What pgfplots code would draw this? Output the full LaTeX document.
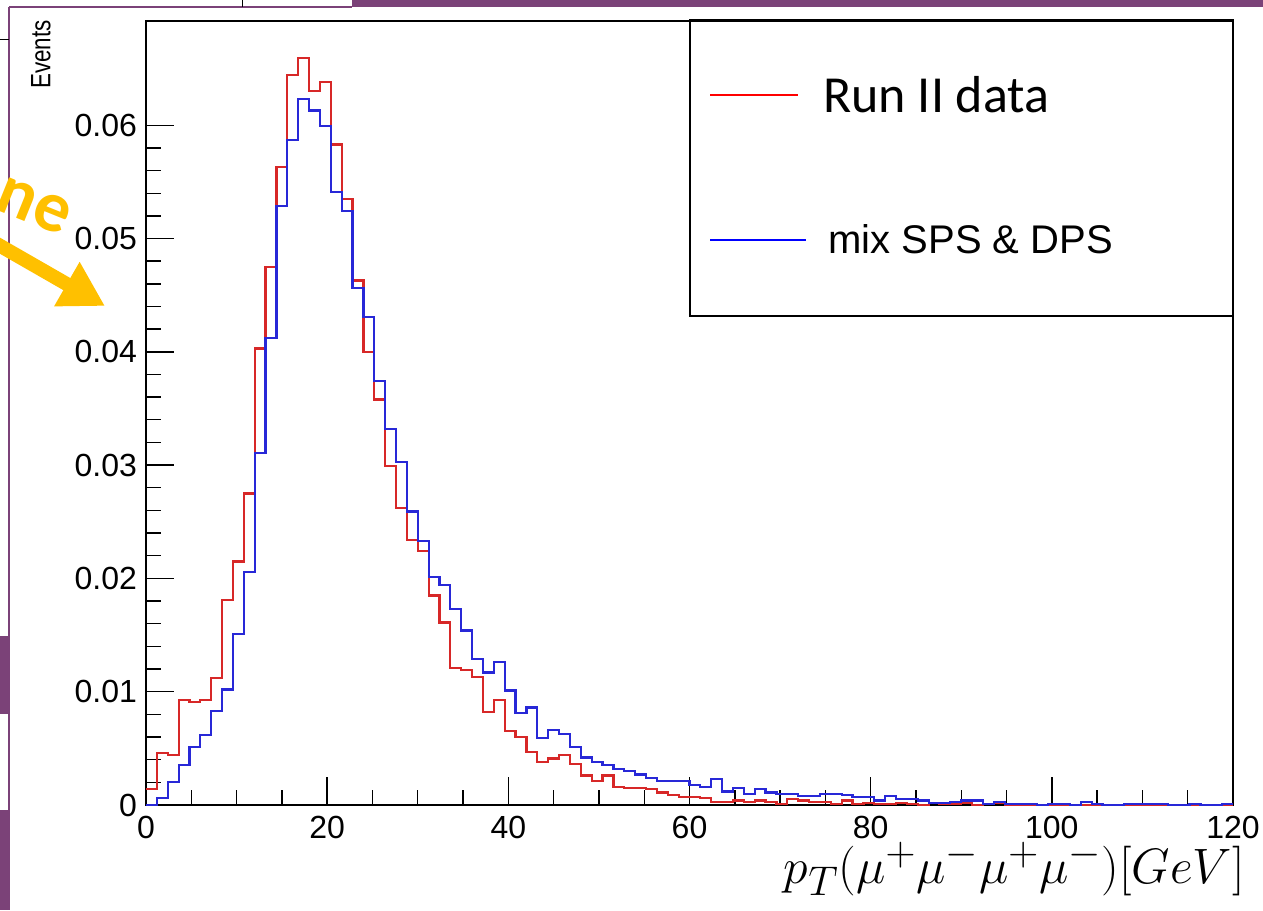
\documentclass[border=0pt]{standalone}
\usepackage{fontspec}
\setmainfont{Liberation Sans}
\newfontfamily\carlito{Carlito}
\usepackage{pgfplots}
\usepackage{pgfplotstable}
\pgfplotsset{compat=1.18}
\usetikzlibrary{arrows.meta}
\definecolor{histred}{RGB}{215,40,40}
\definecolor{histblue}{RGB}{40,40,215}
\definecolor{slidepurple}{RGB}{123,66,120}
\definecolor{gold}{RGB}{255,192,0}

% pT(4mu) histograms, 100 bins of 1.2 GeV, columns: left edge, Run II, mix
\pgfplotstableread{
x r b
0.0 0.0014 0.0000
1.2 0.0046 0.0006
2.4 0.0044 0.0020
3.6 0.0093 0.0035
4.8 0.0091 0.0051
6.0 0.0093 0.0062
7.2 0.0112 0.0083
8.4 0.0181 0.0102
9.6 0.0215 0.0151
10.8 0.0275 0.0206
12.0 0.0403 0.0311
13.2 0.0475 0.0412
14.4 0.0563 0.0529
15.6 0.0644 0.0587
16.8 0.0659 0.0623
18.0 0.0630 0.0613
19.2 0.0638 0.0599
20.4 0.0583 0.0541
21.6 0.0535 0.0524
22.8 0.0463 0.0456
24.0 0.0400 0.0431
25.2 0.0358 0.0374
26.4 0.0299 0.0332
27.6 0.0262 0.0303
28.8 0.0234 0.0259
30.0 0.0224 0.0233
31.2 0.0185 0.0201
32.4 0.0161 0.0194
33.6 0.0121 0.0173
34.8 0.0119 0.0154
36.0 0.0113 0.0129
37.2 0.0082 0.0117
38.4 0.0093 0.0126
39.6 0.0065 0.0101
40.8 0.0060 0.0081
42.0 0.0047 0.0086
43.2 0.0038 0.0059
44.4 0.0041 0.0066
45.6 0.0044 0.0063
46.8 0.0036 0.0051
48.0 0.0026 0.0042
49.2 0.0021 0.0038
50.4 0.0026 0.0035
51.6 0.0016 0.0032
52.8 0.0015 0.0030
54.0 0.0015 0.0027
55.2 0.0014 0.0024
56.4 0.0011 0.0021
57.6 0.0009 0.0021
58.8 0.0007 0.0021
60.0 0.0007 0.0018
61.2 0.0006 0.0016
62.4 0.0003 0.0023
63.6 0.0003 0.0012
64.8 0.0004 0.0015
66.0 0.0003 0.0010
67.2 0.0004 0.0014
68.4 0.0003 0.0011
69.6 0.0001 0.0010
70.8 0.0005 0.0010
72.0 0.0004 0.0008
73.2 0.0003 0.0008
74.4 0.0003 0.0010
75.6 0.0001 0.0010
76.8 0.0004 0.0009
78.0 0.0001 0.0007
79.2 0.0002 0.0007
80.4 0.0001 0.0004
81.6 0.0001 0.0008
82.8 0.0002 0.0005
84.0 0.0001 0.0005
85.2 0.0000 0.0004
86.4 0.0002 0.0002
87.6 0.0001 0.0002
88.8 0.0001 0.0003
90.0 0.0002 0.0004
91.2 0.0000 0.0004
92.4 0.0001 0.0001
93.6 0.0002 0.0003
94.8 0.0000 0.0001
96.0 0.0000 0.0001
97.2 0.0000 0.0001
98.4 0.0000 0.0000
99.6 0.0000 0.0001
100.8 0.0000 0.0001
102.0 0.0000 0.0000
103.2 0.0000 0.0003
104.4 0.0000 0.0001
105.6 0.0000 0.0000
106.8 0.0000 0.0000
108.0 0.0000 0.0001
109.2 0.0000 0.0001
110.4 0.0000 0.0001
111.6 0.0000 0.0001
112.8 0.0000 0.0000
114.0 0.0000 0.0000
115.2 0.0000 0.0001
116.4 0.0000 0.0000
117.6 0.0000 0.0000
118.8 0.0000 0.0001
120.0 0.0000 0.0001
}\histdata

\begin{document}
\begin{tikzpicture}
  \useasboundingbox (0,0) rectangle (631.5pt,455pt);

  % bits of the surrounding slide (1 unit = 1 px of the screenshot)
  \begin{scope}[x=0.5pt, y=-0.5pt, yshift=455pt]
    \fill[slidepurple] (352,0) rectangle (1263,7);
    \draw[slidepurple, line width=0.6pt] (9,7) -- (352,7);
    \draw[slidepurple, line width=0.6pt] (9,7) -- (9,910);
    \draw[black, line width=0.5pt] (242,0) -- (242,7);
    \draw[black, line width=0.5pt] (0,40) -- (9,40);
    \fill[slidepurple] (0,636) rectangle (8,714);
    \fill[slidepurple] (0,810) rectangle (8,910);
    \draw[gold, line width=7pt, -{Triangle[length=22pt, width=24pt]}]
      (-10,240) -- (105,306);
    \node[gold, rotate=-22, font=\carlito\bfseries\fontsize{36}{40}\selectfont,
      inner sep=0, anchor=base west] at (-8,208) {ne};
  \end{scope}

  \begin{axis}[
    at={(73pt,52.5pt)}, anchor=south west,
    scale only axis, width=543.5pt, height=392pt,
    xmin=0, xmax=120, ymin=0, ymax=0.0692,
    axis line style={line width=0.9pt},
    tick align=inside, xtick pos=bottom, ytick pos=left,
    xtick={0,20,...,120}, minor x tick num=3,
    ytick={0,0.01,0.02,0.03,0.04,0.05,0.06},
    yticklabels={0,0.01,0.02,0.03,0.04,0.05,0.06},
    minor y tick num=4,
    major tick length=14pt, minor tick length=7.5pt,
    every tick/.append style={black, line width=0.7pt},
    scaled y ticks=false,
    /pgf/number format/assume math mode=true,
    tick label style={font=\fontsize{16}{18}\selectfont},
    xticklabel style={yshift=-2pt},
    yticklabel style={xshift=-1pt},
    clip=false,
  ]
    \addplot[const plot, histred, line width=1.1pt] table[x=x, y=r] {\histdata};
    \addplot[const plot, histblue, line width=1.1pt] table[x=x, y=b] {\histdata};
  \end{axis}

  % legend, axis title and x label, placed in screenshot pixels
  \begin{scope}[x=0.5pt, y=-0.5pt, yshift=455pt]
    \draw[black, line width=0.8pt] (690,20) rectangle (1233,316);
    \draw[red, line width=1.3pt] (710,95) -- (798,95);
    \draw[blue, line width=1.3pt] (710,240) -- (806,240);
    \node[anchor=base west, inner sep=0, font=\carlito\fontsize{26}{30}\selectfont]
      at (823,113) {Run II data};
    \node[anchor=base west, inner sep=0, font=\fontsize{20}{24}\selectfont]
      at (828,254) {mix SPS \& DPS};
    \node[rotate=90, anchor=east, inner sep=0,
      font=\fontsize{14}{16}\selectfont] at (41,20) {\scalebox{0.8}[1]{Events}};
    \node[anchor=base east, inner sep=0, font=\fontsize{28}{32}\selectfont]
      at (1245,884) {$p_T(\mu^+\mu^-\mu^+\mu^-)[GeV]$};
  \end{scope}
\end{tikzpicture}
\end{document}
